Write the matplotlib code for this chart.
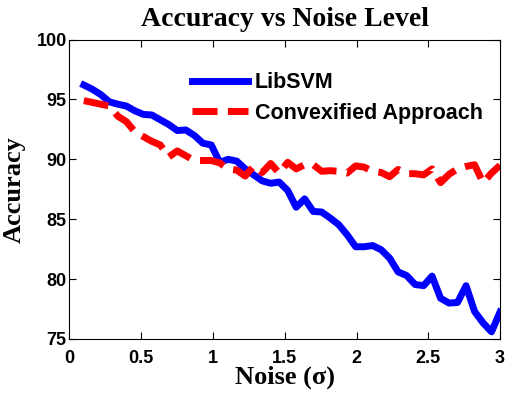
#!/usr/bin/env python

import numpy as np
import matplotlib.pyplot as plt

# Noise levels (sigma), 50 settings from 0.1 to 3
noise = np.linspace(0.1, 3.0, 50)

libsvm = [96.2, 95.85, 95.4, 94.8, 94.6, 94.45, 94.05, 93.75, 93.7, 93.3,
          92.9, 92.4, 92.45, 92.0, 91.35, 91.2, 89.75, 90.0, 89.85, 89.2,
          88.7, 88.2, 88.0, 88.1, 87.4, 86.0, 86.7, 85.65, 85.6, 85.1,
          84.55, 83.7, 82.7, 82.7, 82.8, 82.45, 81.75, 80.6, 80.3, 79.55,
          79.45, 80.25, 78.4, 78.0, 78.05, 79.45, 77.3, 76.35, 75.6, 77.25]

convexified = [94.9, 94.75, 94.6, 94.45, 93.6, 93.15, 92.3, 91.9, 91.5, 91.2,
               90.2, 90.7, 90.3, 89.9, 89.9, 89.9, 89.7, 89.2, 89.1, 88.6,
               89.45, 88.9, 89.65, 88.85, 89.75, 89.2, 89.55, 89.55, 89.0, 89.05,
               89.0, 88.85, 89.45, 89.35, 89.0, 88.9, 88.55, 89.15, 88.8, 88.8,
               88.7, 89.2, 88.05, 88.75, 89.2, 89.4, 89.55, 88.05, 88.85, 89.5]

series_names = ["LibSVM", "Convexified Approach"]

sans = ["Liberation Sans", "DejaVu Sans"]
serif = ["Liberation Serif", "DejaVu Serif"]

fig = plt.figure(figsize=(5.08, 3.94), dpi=100)
ax = fig.add_axes([0.1368, 0.1396, 0.8475, 0.7601])

ax.plot(noise, libsvm, color="#0000ff", lw=5, label=series_names[0])
ax.plot(noise, convexified, color="#ff0000", lw=5, linestyle=(0, (3.6, 1.5)),
        label=series_names[1])

ax.set_xlim(0, 3)
ax.set_ylim(75, 100)
ax.set_xticks([0, 0.5, 1, 1.5, 2, 2.5, 3])
ax.set_xticklabels(["0", "0.5", "1", "1.5", "2", "2.5", "3"])
ax.set_yticks([75, 80, 85, 90, 95, 100])
ax.tick_params(direction="in", top=True, right=True, length=5, width=0.8,
               labelsize=13)
ax.tick_params(axis="x", pad=8)
ax.tick_params(axis="y", pad=2)
for lab in ax.get_xticklabels() + ax.get_yticklabels():
    lab.set_family(sans)
    lab.set_fontweight("bold")
for sp in ax.spines.values():
    sp.set_linewidth(0.8)

ax.set_title("Accuracy vs Noise Level", family=serif, fontweight="bold",
             fontsize=20, pad=10)
ax.set_xlabel("Noise (σ)", family=serif, fontweight="bold", fontsize=19, labelpad=-1)
ax.set_ylabel("Accuracy", family=serif, fontweight="bold", fontsize=19, labelpad=8)

leg = ax.legend(loc="upper left", bbox_to_anchor=(0.285, 0.89), frameon=False,
                prop={"family": sans, "weight": "bold", "size": 15.5},
                handlelength=2.6, handletextpad=0.3, labelspacing=0.42,
                borderaxespad=0, borderpad=0)

fig.savefig("out.png", dpi=100)
plt.close(fig)
